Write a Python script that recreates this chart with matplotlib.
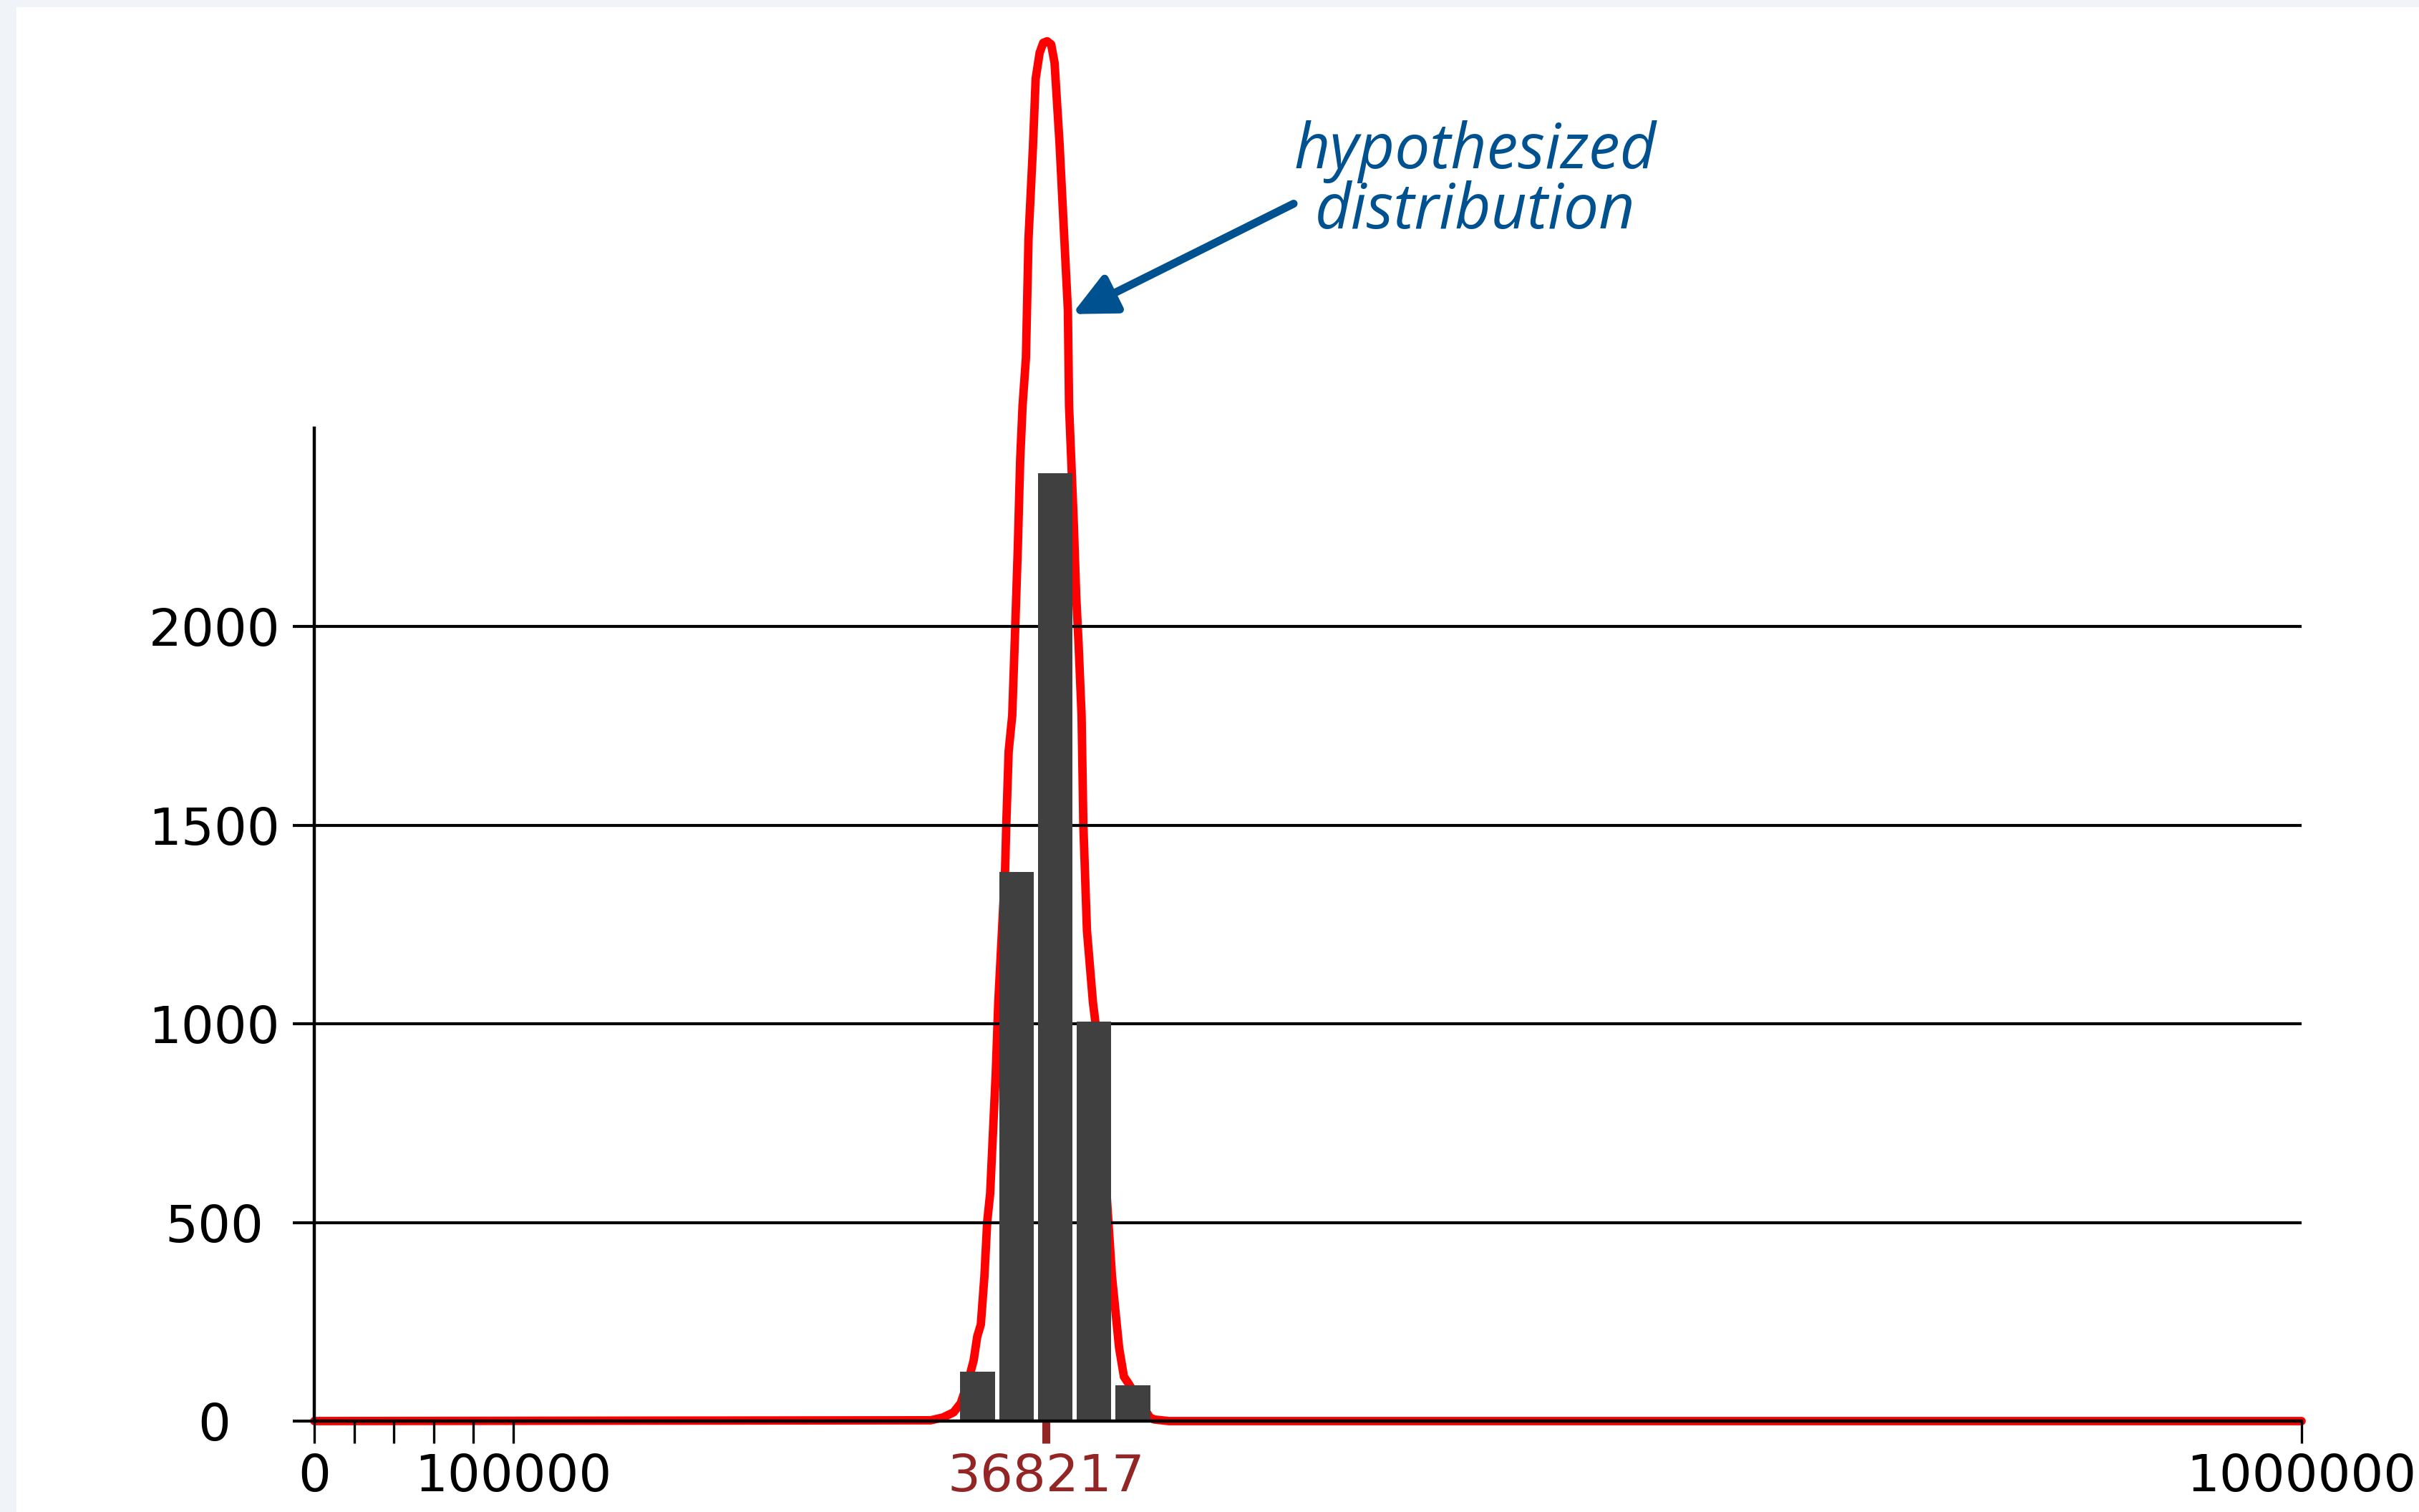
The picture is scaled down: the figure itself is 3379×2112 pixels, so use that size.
import matplotlib
matplotlib.use("Agg")
import matplotlib.pyplot as plt
from matplotlib.patches import Rectangle

# histogram of observed counts
bin_left = [325000, 344700, 364100, 383600, 403100]
bin_width = 17500
counts = [125, 1383, 2387, 1006, 90]

# hypothesized distribution
curve_x = [0, 310200, 316300, 321700, 325300, 329300, 331800, 333600, 335400,
           337200, 338600, 340100, 341500, 342900, 344200, 347600, 348200,
           349400, 351200, 352700, 354000, 355200, 356400, 358100, 359400,
           361600, 363000, 365000, 366800, 368800, 370800, 372500, 375000,
           377400, 379200, 379800, 381000, 382200, 383400, 384600, 386100,
           387000, 388800, 391800, 393000, 401400, 403200, 405000, 407400,
           409800, 420500, 422700, 430000, 1000000]
curve_y = [0, 2, 9, 22, 45, 105, 153, 213, 243,
           364, 501, 573, 725, 874, 1055, 1385, 1500,
           1686, 1776, 1997, 2196, 2419, 2556, 2677, 2978,
           3205, 3380, 3445, 3470, 3474, 3466, 3420, 3218,
           2978, 2798, 2556, 2407, 2257, 2077, 1956, 1776,
           1500, 1235, 1055, 1006, 364, 274, 184, 112,
           94, 9, 4, 0, 0]

y_ticks = [0, 500, 1000, 1500, 2000]
x_ticks = [0, 20000, 40000, 60000, 80000, 100000, 368217, 1000000]
x_labels = ["0", "", "", "", "", "100000", "368217", "1000000"]
mean_value = 368217

note = "hypothesized\ndistribution"
note_xy = (584000, 3120)
arrow_tip = (381300, 2787)
arrow_tail = (492800, 3065)

RED = "#ff0000"
BAR = "#404040"
DARKRED = "#932525"
BLUE = "#00518f"

fig = plt.figure(figsize=(33.8, 21.12), dpi=100)
fig.patch.set_facecolor("#f0f4f8")
fig.patches.append(Rectangle((23 / 3380, 0), 1, 1 - 10 / 2112, transform=fig.transFigure,
                             facecolor="white", edgecolor="none", zorder=-10))

ax = fig.add_axes([439 / 3380, 127 / 2112, (3215 - 439) / 3380, (1985 - 598) / 2112])
ax.set_zorder(1)
ax.set_facecolor("none")
ax.set_xlim(0, 1000000)
ax.set_ylim(0, 2500)

ax.plot(curve_x, curve_y, color=RED, lw=8.5, clip_on=False, zorder=1,
        solid_joinstyle="round", solid_capstyle="round")
ax.bar(bin_left, counts, width=bin_width, align="edge", color=BAR, zorder=2)

ax.set_axisbelow("line")
ax.grid(axis="y", color="black", lw=3)
ax.grid(axis="x", visible=False)

for side in ("top", "right"):
    ax.spines[side].set_visible(False)
ax.spines["left"].set_linewidth(3.2)
ax.spines["bottom"].set_linewidth(3.2)

ax.set_yticks(y_ticks)
ax.set_yticklabels([str(v) for v in y_ticks])
ax.tick_params(axis="y", length=21.6, width=3, pad=79, labelsize=52)
for lab in ax.get_yticklabels():
    lab.set_horizontalalignment("center")

ax.set_xticks(x_ticks)
ax.set_xticklabels(x_labels)
ax.tick_params(axis="x", length=22, width=2.4, pad=10, labelsize=52)
for tick, val in zip(ax.xaxis.get_major_ticks(), x_ticks):
    if val == mean_value:
        tick.tick1line.set_markeredgecolor(DARKRED)
        tick.tick1line.set_markeredgewidth(8)
        tick.label1.set_color(DARKRED)

ax.text(*note_xy, note, ha="center", va="center", fontsize=63, style="italic",
        family=["Open Sans", "DejaVu Sans"], color=BLUE, linespacing=0.95, clip_on=False)
ax.annotate("", xy=arrow_tip, xytext=arrow_tail, annotation_clip=False,
            arrowprops=dict(arrowstyle="-|>,head_length=0.75,head_width=0.36",
                            mutation_scale=48, color=BLUE, lw=8,
                            shrinkA=0, shrinkB=0))

fig.savefig("out.png", dpi=100)
